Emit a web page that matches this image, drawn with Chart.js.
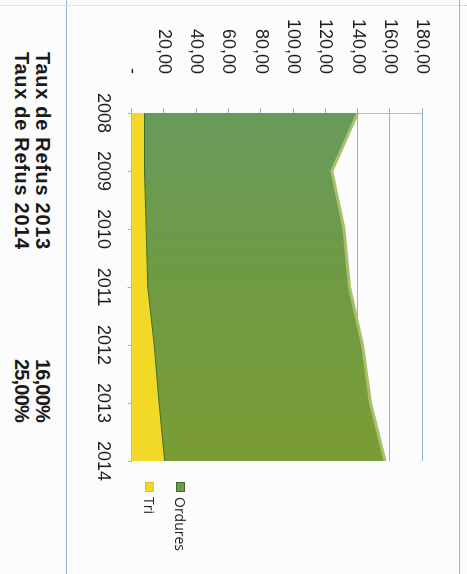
<!DOCTYPE html>
<html>
<head>
<meta charset="utf-8">
<script src="https://cdn.jsdelivr.net/npm/chart.js@4.4.1/dist/chart.umd.min.js"></script>
<style>
  html, body { margin: 0; padding: 0; background: #fcfcfc; overflow: hidden; }
  body { width: 467px; height: 574px; position: relative; }
  /* the scan is the chart turned a quarter turn clockwise */
  #sheet {
    position: absolute; left: 0; top: 0;
    width: 574px; height: 467px;
    transform-origin: 0 0;
    transform: translate(467px, 0) rotate(90deg);
    background: #fcfcfc;
  }
  #chartBox { position: absolute; left: 0; top: 0; width: 574px; height: 400px; }
  .rule-h { position: absolute; left: 0; width: 574px; height: 0; border-top: 1px solid #92b4de; }
  .rule-v { position: absolute; top: 0; height: 467px; width: 0; border-left: 1px dotted #b9c8dc; }
  #legend { position: absolute; left: 482px; top: 0; font: 14px "Open Sans", sans-serif; color: #222; }
  .leg { position: absolute; left: 0; display: flex; align-items: center; white-space: nowrap; }
  .leg i { display: inline-block; width: 10px; height: 9px; margin-right: 5px; box-sizing: border-box; }
  #notes { position: absolute; left: 52px; top: 414px; width: 370px; font: bold 20px "Liberation Sans", Arial, sans-serif; color: #1a1a1a; line-height: 21px; }
  #notes div { display: flex; justify-content: space-between; }
  #notes span:first-child { letter-spacing: 0.7px; }
  #notes span:last-child { letter-spacing: -0.8px; }
</style>
</head>
<body>
<div id="sheet">
  <div class="rule-h" style="top:7px"></div>
  <div class="rule-h" style="top:400px"></div>
  <div class="rule-v" style="left:5px"></div>
  <div id="chartBox"><canvas id="chart"></canvas></div>
  <div id="legend"></div>
  <div id="notes"></div>
</div>
<script>
// values (tonnes, stacked: Tri at the bottom, Ordures on top)
const years = ['2008', '2009', '2010', '2011', '2012', '2013', '2014'];
const tri = [8, 8, 9, 10, 14, 17, 20.5];
const ordures = [132, 116, 122.5, 125, 129, 131, 136.5];
const yTicks = [0, 20, 40, 60, 80, 100, 120, 140, 160, 180];

const noteLabels = ['Taux de Refus 2013', 'Taux de Refus 2014'];
const noteValues = ['16,00%', '25,00%'];

const green = '#709a45';
const yellow = '#f2d928';

function greenFill(ctx) {
    const area = ctx.chart.chartArea;
    if (!area) return green;
    const g = ctx.chart.ctx.createLinearGradient(area.left, 0, area.right, 0);
    g.addColorStop(0, '#689a5c');
    g.addColorStop(0.45, '#6f9a45');
    g.addColorStop(1, '#7a9c34');
    return g;
}

const fmt = v => v === 0 ? '-' : v.toFixed(2).replace('.', ',');

new Chart(document.getElementById('chart'), {
    type: 'line',
    data: {
        labels: years,
        datasets: [
            { label: 'Tri', data: tri, fill: 'origin', backgroundColor: yellow, borderColor: '#3f6a2c', borderWidth: 1, pointRadius: 0, tension: 0 },
            { label: 'Ordures', data: ordures, fill: '-1', backgroundColor: greenFill, borderColor: '#a9bf6c', borderWidth: 3, pointRadius: 0, tension: 0 }
        ]
    },
    options: {
        responsive: true,
        maintainAspectRatio: false,
        animation: false,
        layout: { padding: { top: 44, right: 113, bottom: 11, left: 0 } },
        plugins: { legend: { display: false }, tooltip: { enabled: false } },
        scales: {
            x: {
                grid: { drawOnChartArea: false, drawTicks: true, tickLength: 4, color: '#8fb1dc' },
                border: { color: '#9dbbe0' },
                ticks: { font: { family: 'Liberation Sans', size: 18 }, color: '#1e1e1e', padding: 14, maxRotation: 0, autoSkip: false }
            },
            y: {
                stacked: true,
                min: 0, max: 180,
                afterFit: s => { s.width = 113; },
                afterBuildTicks: s => { s.ticks = yTicks.map(v => ({ value: v })); },
                grid: { color: '#8db0de', tickLength: 5 },
                border: { color: '#a9bcd4' },
                ticks: { font: { family: 'Liberation Sans', size: 18 }, color: '#1e1e1e', padding: 34, callback: fmt }
            }
        }
    }
});

// legend, Ordures listed first as in the scan
const legend = document.getElementById('legend');
[['Ordures', green, '#3d6b2a', 282], ['Tri', yellow, '#e0c21a', 313]].forEach(([name, fill, edge, top]) => {
    const row = document.createElement('div');
    row.className = 'leg';
    row.style.top = (top - 5) + 'px';
    row.innerHTML = '<i style="background:' + fill + ';border:1px solid ' + edge + '"></i>' + name;
    legend.appendChild(row);
});

const notes = document.getElementById('notes');
noteLabels.forEach((t, i) => {
    const d = document.createElement('div');
    d.innerHTML = '<span>' + t + '</span><span>' + noteValues[i] + '</span>';
    notes.appendChild(d);
});
</script>
</body>
</html>
